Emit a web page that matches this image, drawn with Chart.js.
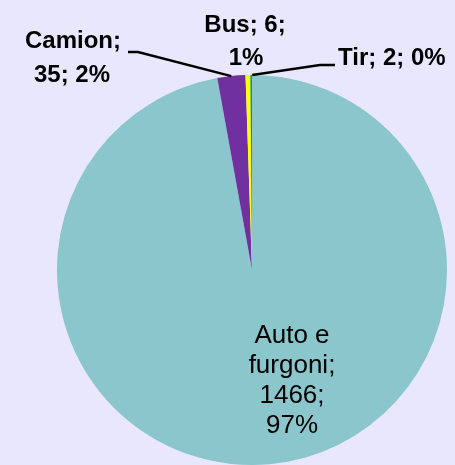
<!DOCTYPE html>
<html>
<head>
<meta charset="utf-8">
<script src="https://cdn.jsdelivr.net/npm/chart.js@4"></script>
<style>
  html, body { margin: 0; padding: 0; background: #e9e7fd; }
  #c { display: block; }
</style>
</head>
<body>
<canvas id="c" width="455" height="465"></canvas>
<script>
// data
var categories = ['Auto e furgoni', 'Camion', 'Bus', 'Tir'];
var counts = [1466, 35, 6, 2];
var percents = ['97%', '2%', '1%', '0%'];
var colors = ['#8bc6cc', '#7030a0', '#ffff00', '#00a050'];

// label text blocks (lines) and where they sit
var labelLines = [
  ['Auto e', 'furgoni;', counts[0] + ';', percents[0]],
  [categories[1] + ';', counts[1] + '; ' + percents[1]],
  [categories[2] + '; ' + counts[2] + ';', percents[2]],
  [categories[3] + '; ' + counts[3] + '; ' + percents[3]]
];

var labelsPlugin = {
  id: 'pieLabels',
  beforeDraw: function(chart) {
    var ctx = chart.ctx;
    ctx.save();
    ctx.fillStyle = '#e9e7fd';
    ctx.fillRect(0, 0, chart.width, chart.height);
    ctx.restore();
  },
  afterDraw: function(chart) {
    var ctx = chart.ctx;
    var arcs = chart.getDatasetMeta(0).data;
    ctx.save();
    ctx.fillStyle = '#000';
    ctx.textBaseline = 'alphabetic';

    // inside label
    ctx.font = '26px "Liberation Sans", Arial, sans-serif';
    ctx.textAlign = 'center';
    var l0 = labelLines[0];
    for (var i = 0; i < l0.length; i++) ctx.fillText(l0[i], 292, 343 + i * 30);

    ctx.font = 'bold 24px "Liberation Sans", Arial, sans-serif';
    // Camion
    ctx.fillText(labelLines[1][0], 73, 48);
    ctx.fillText(labelLines[1][1], 72, 82);
    // Bus
    ctx.fillText(labelLines[2][0], 245, 32);
    ctx.fillText(labelLines[2][1], 246, 65);
    // Tir
    ctx.textAlign = 'left';
    ctx.fillText(labelLines[3][0], 338, 65);

    // leader lines to the slices' outer edge
    function edge(a) {
      var p = a.getProps(['x', 'y', 'startAngle', 'endAngle', 'outerRadius'], true);
      var m = (p.startAngle + p.endAngle) / 2;
      return { x: p.x + Math.cos(m) * p.outerRadius, y: p.y + Math.sin(m) * p.outerRadius };
    }
    ctx.strokeStyle = '#000';
    ctx.lineWidth = 2.5;
    var e1 = edge(arcs[1]);
    ctx.beginPath();
    ctx.moveTo(128, 52);
    ctx.lineTo(138, 52);
    ctx.lineTo(e1.x, e1.y);
    ctx.stroke();
    var e3 = edge(arcs[3]);
    ctx.beginPath();
    ctx.moveTo(e3.x + 1, e3.y);
    ctx.lineTo(320, 65);
    ctx.lineTo(335, 65);
    ctx.stroke();
    ctx.restore();
  }
};

new Chart(document.getElementById('c'), {
  type: 'pie',
  data: {
    labels: categories,
    datasets: [{
      data: counts,
      backgroundColor: colors,
      borderWidth: 0
    }]
  },
  options: {
    responsive: false,
    animation: false,
    layout: { padding: { left: 57, right: 8, top: 75, bottom: 0 } },
    plugins: {
      legend: { display: false },
      tooltip: { enabled: false }
    }
  },
  plugins: [labelsPlugin]
});
</script>
</body>
</html>
